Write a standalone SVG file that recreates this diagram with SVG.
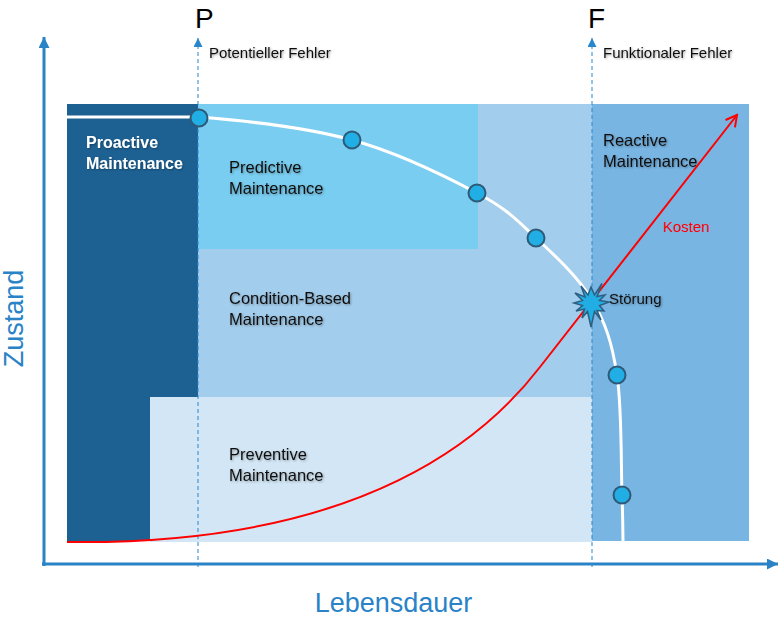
<svg xmlns="http://www.w3.org/2000/svg" width="781" height="618" viewBox="0 0 781 618">
<defs>
<style>
.lbl{font-family:"Liberation Sans",Arial,sans-serif;font-size:16.5px;fill:#111;}
.lblw{font-family:"Liberation Sans",Arial,sans-serif;font-size:16px;font-weight:bold;fill:#fff;}
.small{font-family:"Liberation Sans",Arial,sans-serif;font-size:15px;fill:#111;}
.big{font-family:"Liberation Sans",Arial,sans-serif;font-size:28px;fill:#000;}
.axislbl{font-family:"Liberation Sans",Arial,sans-serif;font-size:27px;fill:#2A83C6;}
.axis{stroke:#2A83C6;stroke-width:3;fill:none;}
.dash{stroke:#2A86CC;stroke-width:1;stroke-dasharray:4 3;fill:none;}
.pt{fill:#20AEE4;stroke:#2E5A78;stroke-width:2;}
</style>
<filter id="sh" x="-10%" y="-20%" width="130%" height="160%">
<feDropShadow dx="1" dy="1" stdDeviation="0.9" flood-color="#000" flood-opacity="0.35"/>
</filter>
<marker id="tri" viewBox="0 0 10 10" refX="10" refY="5" markerWidth="11" markerHeight="11" markerUnits="userSpaceOnUse" orient="auto">
<path d="M0,0 L10,5 L0,10 Z" fill="#2A83C6"/>
</marker>
<marker id="triS" viewBox="0 0 10 10" refX="10" refY="5" markerWidth="9" markerHeight="9" markerUnits="userSpaceOnUse" orient="auto">
<path d="M0,0 L10,5 L0,10 Z" fill="#2A86CC"/>
</marker>
<marker id="openR" viewBox="0 0 14 14" refX="12" refY="7" markerWidth="14" markerHeight="14" markerUnits="userSpaceOnUse" orient="auto">
<path d="M1,1 L12,7 L1,13" fill="none" stroke="#FF0000" stroke-width="2"/>
</marker>
</defs>
<rect width="781" height="618" fill="#fff"/>

<g id="proactive">
<rect x="67" y="104" width="131" height="437" fill="#1D6193"/>
<text class="lblw" filter="url(#sh)"><tspan x="86" y="148">Proactive</tspan><tspan x="86" y="169">Maintenance</tspan></text>
</g>
<g id="condition-based">
<rect x="198" y="104" width="394" height="293" fill="#A3CDEC"/>
<text class="lbl" filter="url(#sh)"><tspan x="229" y="304">Condition-Based</tspan><tspan x="229" y="325">Maintenance</tspan></text>
</g>
<g id="predictive">
<rect x="198" y="104" width="280" height="145" fill="#79CDF0"/>
<text class="lbl" filter="url(#sh)"><tspan x="229" y="173">Predictive</tspan><tspan x="229" y="194">Maintenance</tspan></text>
</g>
<g id="preventive">
<rect x="150" y="397" width="442" height="145" fill="#D2E6F5"/>
<text class="lbl" filter="url(#sh)"><tspan x="229" y="460">Preventive</tspan><tspan x="229" y="481">Maintenance</tspan></text>
</g>
<g id="reactive">
<rect x="592" y="104" width="157" height="437" fill="#78B5E3"/>
<text class="lbl" filter="url(#sh)"><tspan x="603" y="146">Reactive</tspan><tspan x="603" y="167">Maintenance</tspan></text>
</g>

<g id="connectors">
<line class="axis" x1="44" y1="566" x2="44" y2="37" marker-end="url(#tri)"/>
<line class="axis" x1="42" y1="564" x2="778" y2="564" marker-end="url(#tri)"/>
<line class="dash" x1="198" y1="567" x2="198" y2="38" marker-end="url(#triS)"/>
<line class="dash" x1="592" y1="567" x2="592" y2="38" marker-end="url(#triS)"/>
<path id="kosten-curve" d="M67,542 C370,546 490,432 540,367 L737,115" fill="none" stroke="#FF0000" stroke-width="2" marker-end="url(#openR)"/>
<path id="zustand-curve" d="M67,117 L199,117 C246.5,120.8 305.7,127.3 352,140 C398.3,152.7 446.3,176.7 477,193 C507.7,209.3 516.8,220.2 536,238 C555.2,255.8 578.5,277.2 592,300 C605.5,322.8 612,342.5 617,375 C622,407.5 621,467.3 622,495 C623,522.7 622.8,533.3 623,541" fill="none" stroke="#fff" stroke-width="3"/>
</g>

<g id="points">
<circle class="pt" cx="199" cy="118" r="8.5"/>
<circle class="pt" cx="352" cy="140" r="8.5"/>
<circle class="pt" cx="477" cy="193" r="8.5"/>
<circle class="pt" cx="536" cy="238" r="8.5"/>
<circle class="pt" cx="617" cy="375" r="8.5"/>
<circle class="pt" cx="622" cy="495" r="8.5"/>
</g>

<g id="stoerung">
<polygon points="609,302 599.5,305.5 604,311 597,310.5 601,320 594.5,311.5 591,327 587.5,311.5 582,318 584.5,309 576,311 582.5,305.5 574,303 582.5,300.5 575,293 585,297 581,286 588,295 591,287 594.5,295 602,283.5 597,296.5 605,295 599.5,300.5" fill="#20AEE4" stroke="#2E5F80" stroke-width="1.5" stroke-linejoin="miter"/>
<text class="small" x="609" y="304" filter="url(#sh)">Störung</text>
</g>

<g id="labels">
<text class="big" x="195" y="28">P</text>
<text class="small" x="209" y="58" filter="url(#sh)">Potentieller Fehler</text>
<text class="big" x="588" y="28">F</text>
<text class="small" x="603" y="58" filter="url(#sh)">Funktionaler Fehler</text>
<text class="small" x="663" y="232" style="fill:#FF0000">Kosten</text>
<text class="axislbl" transform="translate(23,318.5) rotate(-90)" text-anchor="middle" x="0" y="0">Zustand</text>
<text class="axislbl" x="393.5" y="612" text-anchor="middle">Lebensdauer</text>
</g>
</svg>
